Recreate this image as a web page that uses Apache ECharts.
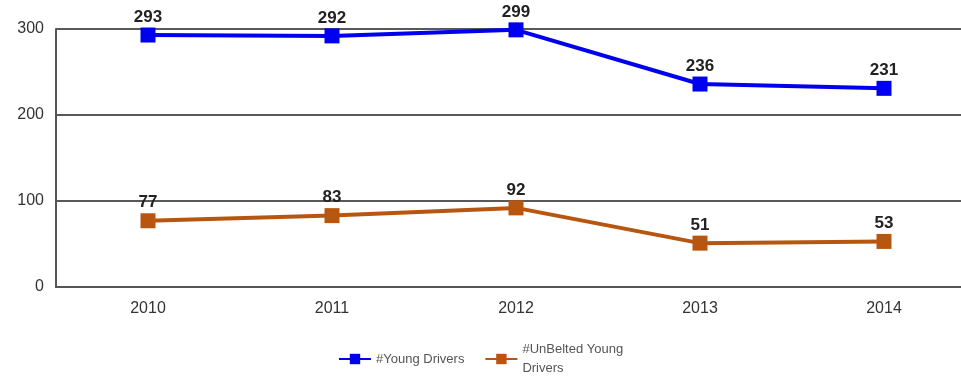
<!DOCTYPE html>
<html>
<head>
<meta charset="utf-8">
<script src="https://cdn.jsdelivr.net/npm/echarts@6/dist/echarts.min.js"></script>
<style>
  html, body { margin: 0; padding: 0; background: #fff; overflow: hidden; }
  /* chart is a bit wider than the window: the last category is cut off in the original */
  #chart { width: 976px; height: 377px; }
</style>
</head>
<body>
<div id="chart"></div>
<script>
var years = ['2010', '2011', '2012', '2013', '2014'];
var youngDrivers = [293, 292, 299, 236, 231];
var unbeltedDrivers = [77, 83, 92, 51, 53];
var yTicks = [0, 100, 200, 300];

var chart = echarts.init(document.getElementById('chart'));

var labelStyle = {
  show: true,
  position: 'top',
  distance: 2,
  color: '#222',
  fontSize: 17,
  fontWeight: 'bold',
  fontFamily: 'Liberation Sans, Arial, sans-serif'
};

chart.setOption({
  animation: false,
  grid: { left: 56, right: 0, top: 29, bottom: 90 },
  legend: {
    top: 335,
    left: 333,
    itemWidth: 32,
    itemHeight: 13,
    itemGap: 20,
    textStyle: { color: '#555', fontSize: 13, lineHeight: 19, fontFamily: 'Liberation Sans, Arial, sans-serif' },
    data: ['#Young Drivers', '#UnBelted Young\nDrivers']
  },
  xAxis: {
    type: 'category',
    data: years,
    axisTick: { show: false },
    axisLine: { lineStyle: { color: '#555', width: 2 } },
    axisLabel: { color: '#333', fontSize: 16, margin: 14, fontFamily: 'Liberation Sans, Arial, sans-serif' }
  },
  yAxis: {
    type: 'value',
    min: yTicks[0],
    max: yTicks[yTicks.length - 1],
    interval: 100,
    axisLine: { show: true, lineStyle: { color: '#555', width: 2 } },
    axisTick: { show: false },
    axisLabel: { color: '#333', fontSize: 16, margin: 12, fontFamily: 'Liberation Sans, Arial, sans-serif' },
    splitLine: { lineStyle: { color: '#222', width: 1.5 } }
  },
  series: [
    {
      name: '#Young Drivers',
      type: 'line',
      data: youngDrivers,
      symbol: 'rect',
      symbolSize: 15,
      lineStyle: { color: '#0000f0', width: 4 },
      itemStyle: { color: '#0000f0' },
      label: labelStyle
    },
    {
      name: '#UnBelted Young\nDrivers',
      type: 'line',
      data: unbeltedDrivers,
      symbol: 'rect',
      symbolSize: 15,
      lineStyle: { color: '#b8560f', width: 4 },
      itemStyle: { color: '#b8560f' },
      label: labelStyle
    }
  ]
});
</script>
</body>
</html>
